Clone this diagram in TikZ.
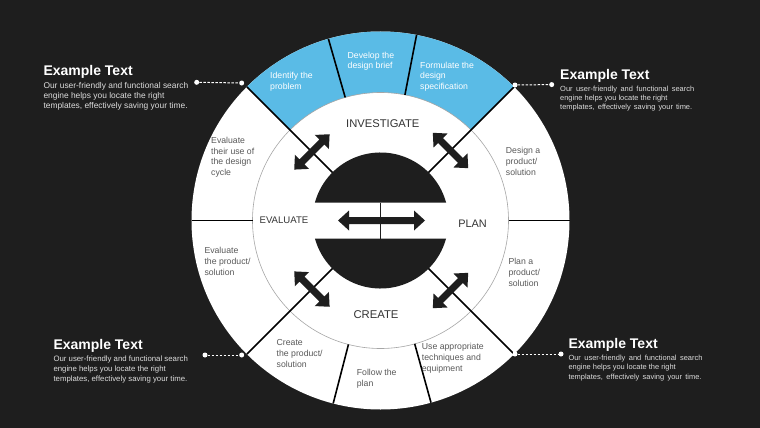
\documentclass[tikz,border=0pt]{standalone}
\usepackage{fontspec}
\setmainfont{Liberation Sans}
\definecolor{bg}{HTML}{1E1E1E}
\definecolor{skyb}{HTML}{5ABBE6}
\definecolor{segtxt}{HTML}{595959}
\definecolor{phase}{HTML}{333333}
\definecolor{bodytxt}{HTML}{DDDDDD}
\definecolor{arrowc}{HTML}{1E1E1E}
\newcommand{\dblarw}[3]{%
  \begin{scope}[shift={(#1)},rotate=#2]
    \fill[arrowc] (-#3,0) -- ({-#3+11},10) -- ({-#3+11},3.5) -- ({#3-11},3.5) -- ({#3-11},10) -- (#3,0)
      -- ({#3-11},-10) -- ({#3-11},-3.5) -- ({-#3+11},-3.5) -- ({-#3+11},-10) -- cycle;
  \end{scope}}
\begin{document}
\begin{tikzpicture}[x=1pt,y=1pt,
  segtext/.style={anchor=west, align=left, inner sep=0pt, text=segtxt, font=\fontsize{8.7}{10.7}\selectfont},
  phaselbl/.style={inner sep=0pt, text=phase},
  divider/.style={line width=1.6pt, draw=black},
  dotnode/.style={circle, fill=white, inner sep=0pt, minimum size=5pt},
  leader/.style={draw=white, line width=1pt, dash pattern=on 2.5pt off 1.5pt},
  titletxt/.style={anchor=west, inner sep=0pt, text=white, font=\bfseries\fontsize{14}{16}\selectfont},
  bodyblock/.style={anchor=west, align=left, inner sep=0pt, text=bodytxt}
]
\fill[bg] (0,0) rectangle (760,-428);
\useasboundingbox (0,0) rectangle (760,-428);

\begin{scope}[shift={(380.5,-220.5)}]
  % ring and inner disc
  \fill[white] (0,0) circle[radius=189];
  \fill[skyb] (45:128) arc[start angle=45,end angle=135,radius=128] -- (135:189)
     arc[start angle=135,end angle=45,radius=189] -- cycle;
  \draw[line width=0.6pt, draw=gray!70] (0,0) circle[radius=128];
  % ring dividers
  \foreach \a in {106,79,255.5,285.5,0,180} {
    \draw[divider] (\a:128) -- (\a:189);
  }
  \foreach \a in {45,135,225,315} {
    \draw[divider] (\a:66) -- (\a:189);
  }
  % dark centre
  \fill[arrowc] (15.35:68) arc[start angle=15.35,end angle=164.65,radius=68] -- cycle;
  \fill[arrowc] (-15.35:68) arc[start angle=-15.35,end angle=-164.65,radius=68] -- cycle;
  \draw[arrowc, line width=1.5pt] (0,18) -- (0,-18);
  % arrows
  \dblarw{1,0}{0}{43.5}
  \dblarw{135:97}{45}{25}
  \dblarw{315:99}{45}{25}
  \dblarw{45:99}{-45}{25}
  \dblarw{225:97}{-45}{25}
\end{scope}

% phase labels
\node[phaselbl, font=\fontsize{11.2}{13}\selectfont] (inv) at (382.8,-123.3) {INVESTIGATE};
\node[phaselbl, font=\fontsize{9.6}{11}\selectfont] (eva) at (284,-220) {EVALUATE};
\node[phaselbl, font=\fontsize{10.9}{12}\selectfont] (pla) at (472.5,-223.3) {PLAN};
\node[phaselbl, font=\fontsize{11.3}{13}\selectfont] (cre) at (376,-315) {CREATE};

% segment texts
\node[segtext, text=white] (s1) at (270,-82) {Identify the\\problem};
\node[segtext, text=white] (s2) at (347.5,-61.3) {Develop the\\design brief};
\node[segtext, text=white] (s3) at (420,-76.5) {Formulate the\\design\\specification};
\node[segtext] (s4) at (211,-157.3) {Evaluate\\their use of\\the design\\cycle};
\node[segtext] (s5) at (505.7,-161.5) {Design a\\product/\\solution};
\node[segtext] (s6) at (204.3,-261.3) {Evaluate\\the product/\\solution};
\node[segtext] (s7) at (508.3,-272.5) {Plan a\\product/\\solution};
\node[segtext] (s8) at (276.5,-353.5) {Create\\the product/\\solution};
\node[segtext] (s9) at (356.7,-378.5) {Follow the\\plan};
\node[segtext] (s10) at (421.7,-358.3) {Use appropriate\\techniques and\\equipment};

% callouts
\node[dotnode] (tla) at (196.7,-82.3) {};
\node[dotnode] (tlb) at (241.7,-83) {};
\draw[leader] (tla) -- (tlb);
\node[titletxt] (tlt) at (43.3,-72) {Example Text};
\node[bodyblock, font=\fontsize{8.4}{10}\selectfont] (tlx) at (43.3,-96.3)
  {Our user-friendly and functional search\\engine helps you locate the right\\templates, effectively saving your time.};

\node[dotnode] (tra) at (515,-85) {};
\node[dotnode] (trb) at (551.7,-84.6) {};
\draw[leader] (tra) -- (trb);
\node[titletxt] (trt) at (560,-75.7) {Example Text};
\node[bodyblock, font=\fontsize{7.45}{9.3}\selectfont] (trx) at (560,-98.7)
  {\makebox[134pt][s]{Our user-friendly and functional search}\\engine helps you locate the right\\\makebox[132pt][s]{templates, effectively saving your time.}};

\node[dotnode] (bla) at (205,-355) {};
\node[dotnode] (blb) at (241.7,-355) {};
\draw[leader] (bla) -- (blb);
\node[titletxt] (blt) at (53.3,-345.7) {Example Text};
\node[bodyblock, font=\fontsize{7.8}{10}\selectfont] (blx) at (53.3,-369.3)
  {Our user-friendly and functional search\\engine helps you locate the right\\templates, effectively saving your time.};

\node[dotnode] (bra) at (515,-354) {};
\node[dotnode] (brb) at (561,-354) {};
\draw[leader] (bra) -- (brb);
\node[titletxt] (brt) at (568.3,-345) {Example Text};
\node[bodyblock, font=\fontsize{7.45}{9.5}\selectfont] (brx) at (568.3,-367.8)
  {\makebox[134pt][s]{Our user-friendly and functional search}\\engine helps you locate the right\\\makebox[133pt][s]{templates, effectively saving your time.}};
\end{tikzpicture}
\end{document}
